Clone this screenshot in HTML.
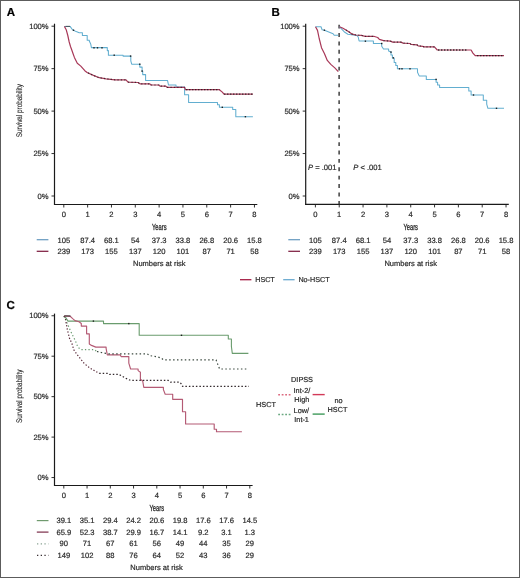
<!DOCTYPE html><html><head><meta charset="utf-8"><style>html,body{margin:0;padding:0;background:#fff;}svg{display:block;will-change:transform;}text{font-family:"Liberation Sans", sans-serif;text-rendering:geometricPrecision;}</style></head><body>
<svg width="520" height="578" viewBox="0 0 520 578">
<rect x="0" y="0" width="520" height="578" fill="#fff"/>
<text x="6.70" y="16.30" text-anchor="start" font-size="11.5" fill="#000" font-weight="bold" font-style="normal" stroke="#000" stroke-width="0.2" >A</text>
<text x="271.60" y="16.30" text-anchor="start" font-size="11.5" fill="#000" font-weight="bold" font-style="normal" stroke="#000" stroke-width="0.2" >B</text>
<text x="6.50" y="308.90" text-anchor="start" font-size="11.5" fill="#000" font-weight="bold" font-style="normal" stroke="#000" stroke-width="0.2" >C</text>
<line x1="54.5" y1="23.7" x2="54.5" y2="205.0" stroke="#1a1a1a" stroke-width="1.2"/>
<line x1="54.0" y1="204.5" x2="257.3" y2="204.5" stroke="#1a1a1a" stroke-width="1.1"/>
<line x1="51.5" y1="26.2" x2="54.5" y2="26.2" stroke="#1a1a1a" stroke-width="0.9"/>
<text x="48.60" y="28.80" text-anchor="end" font-size="7.6" fill="#2b2b2b" font-weight="normal" font-style="normal" stroke="#2b2b2b" stroke-width="0.2" >100%</text>
<line x1="51.5" y1="68.65" x2="54.5" y2="68.65" stroke="#1a1a1a" stroke-width="0.9"/>
<text x="48.60" y="71.25" text-anchor="end" font-size="7.6" fill="#2b2b2b" font-weight="normal" font-style="normal" stroke="#2b2b2b" stroke-width="0.2" >75%</text>
<line x1="51.5" y1="111.10000000000001" x2="54.5" y2="111.10000000000001" stroke="#1a1a1a" stroke-width="0.9"/>
<text x="48.60" y="113.70" text-anchor="end" font-size="7.6" fill="#2b2b2b" font-weight="normal" font-style="normal" stroke="#2b2b2b" stroke-width="0.2" >50%</text>
<line x1="51.5" y1="153.55" x2="54.5" y2="153.55" stroke="#1a1a1a" stroke-width="0.9"/>
<text x="48.60" y="156.15" text-anchor="end" font-size="7.6" fill="#2b2b2b" font-weight="normal" font-style="normal" stroke="#2b2b2b" stroke-width="0.2" >25%</text>
<line x1="51.5" y1="196.0" x2="54.5" y2="196.0" stroke="#1a1a1a" stroke-width="0.9"/>
<text x="48.60" y="198.60" text-anchor="end" font-size="7.6" fill="#2b2b2b" font-weight="normal" font-style="normal" stroke="#2b2b2b" stroke-width="0.2" >0%</text>
<line x1="63.80" y1="204.5" x2="63.80" y2="207.5" stroke="#1a1a1a" stroke-width="0.9"/>
<line x1="87.63" y1="204.5" x2="87.63" y2="207.5" stroke="#1a1a1a" stroke-width="0.9"/>
<line x1="111.46" y1="204.5" x2="111.46" y2="207.5" stroke="#1a1a1a" stroke-width="0.9"/>
<line x1="135.29" y1="204.5" x2="135.29" y2="207.5" stroke="#1a1a1a" stroke-width="0.9"/>
<line x1="159.12" y1="204.5" x2="159.12" y2="207.5" stroke="#1a1a1a" stroke-width="0.9"/>
<line x1="182.95" y1="204.5" x2="182.95" y2="207.5" stroke="#1a1a1a" stroke-width="0.9"/>
<line x1="206.78" y1="204.5" x2="206.78" y2="207.5" stroke="#1a1a1a" stroke-width="0.9"/>
<line x1="230.61" y1="204.5" x2="230.61" y2="207.5" stroke="#1a1a1a" stroke-width="0.9"/>
<line x1="254.44" y1="204.5" x2="254.44" y2="207.5" stroke="#1a1a1a" stroke-width="0.9"/>
<text x="63.80" y="217.30" text-anchor="middle" font-size="7.6" fill="#2b2b2b" font-weight="normal" font-style="normal" stroke="#2b2b2b" stroke-width="0.2" >0</text>
<text x="87.63" y="217.30" text-anchor="middle" font-size="7.6" fill="#2b2b2b" font-weight="normal" font-style="normal" stroke="#2b2b2b" stroke-width="0.2" >1</text>
<text x="111.46" y="217.30" text-anchor="middle" font-size="7.6" fill="#2b2b2b" font-weight="normal" font-style="normal" stroke="#2b2b2b" stroke-width="0.2" >2</text>
<text x="135.29" y="217.30" text-anchor="middle" font-size="7.6" fill="#2b2b2b" font-weight="normal" font-style="normal" stroke="#2b2b2b" stroke-width="0.2" >3</text>
<text x="159.12" y="217.30" text-anchor="middle" font-size="7.6" fill="#2b2b2b" font-weight="normal" font-style="normal" stroke="#2b2b2b" stroke-width="0.2" >4</text>
<text x="182.95" y="217.30" text-anchor="middle" font-size="7.6" fill="#2b2b2b" font-weight="normal" font-style="normal" stroke="#2b2b2b" stroke-width="0.2" >5</text>
<text x="206.78" y="217.30" text-anchor="middle" font-size="7.6" fill="#2b2b2b" font-weight="normal" font-style="normal" stroke="#2b2b2b" stroke-width="0.2" >6</text>
<text x="230.61" y="217.30" text-anchor="middle" font-size="7.6" fill="#2b2b2b" font-weight="normal" font-style="normal" stroke="#2b2b2b" stroke-width="0.2" >7</text>
<text x="254.44" y="217.30" text-anchor="middle" font-size="7.6" fill="#2b2b2b" font-weight="normal" font-style="normal" stroke="#2b2b2b" stroke-width="0.2" >8</text>
<g transform="translate(21.60,110.65) rotate(-90) scale(0.776,1)"><text x="0" y="0" text-anchor="middle" font-size="8.2" fill="#2b2b2b" stroke="#2b2b2b" stroke-width="0.14">Survival probability</text></g>
<g transform="translate(159.30,230.40) scale(0.66,1)"><text x="0" y="0" text-anchor="middle" font-size="8.8" fill="#2b2b2b" stroke="#2b2b2b" stroke-width="0.3">Years</text></g>
<text x="159.30" y="265.60" text-anchor="middle" font-size="7.5" fill="#2b2b2b" font-weight="normal" font-style="normal" stroke="#2b2b2b" stroke-width="0.2" >Numbers at risk</text>
<line x1="36.7" y1="239.7" x2="48.4" y2="239.7" stroke="#6a9cc0" stroke-width="1.25"/>
<line x1="36.7" y1="251.3" x2="48.4" y2="251.3" stroke="#7e1e40" stroke-width="1.25"/>
<text x="63.80" y="242.60" text-anchor="middle" font-size="7.6" fill="#2b2b2b" font-weight="normal" font-style="normal" stroke="#2b2b2b" stroke-width="0.2" >105</text>
<text x="87.63" y="242.60" text-anchor="middle" font-size="7.6" fill="#2b2b2b" font-weight="normal" font-style="normal" stroke="#2b2b2b" stroke-width="0.2" >87.4</text>
<text x="111.46" y="242.60" text-anchor="middle" font-size="7.6" fill="#2b2b2b" font-weight="normal" font-style="normal" stroke="#2b2b2b" stroke-width="0.2" >68.1</text>
<text x="135.29" y="242.60" text-anchor="middle" font-size="7.6" fill="#2b2b2b" font-weight="normal" font-style="normal" stroke="#2b2b2b" stroke-width="0.2" >54</text>
<text x="159.12" y="242.60" text-anchor="middle" font-size="7.6" fill="#2b2b2b" font-weight="normal" font-style="normal" stroke="#2b2b2b" stroke-width="0.2" >37.3</text>
<text x="182.95" y="242.60" text-anchor="middle" font-size="7.6" fill="#2b2b2b" font-weight="normal" font-style="normal" stroke="#2b2b2b" stroke-width="0.2" >33.8</text>
<text x="206.78" y="242.60" text-anchor="middle" font-size="7.6" fill="#2b2b2b" font-weight="normal" font-style="normal" stroke="#2b2b2b" stroke-width="0.2" >26.8</text>
<text x="230.61" y="242.60" text-anchor="middle" font-size="7.6" fill="#2b2b2b" font-weight="normal" font-style="normal" stroke="#2b2b2b" stroke-width="0.2" >20.6</text>
<text x="254.44" y="242.60" text-anchor="middle" font-size="7.6" fill="#2b2b2b" font-weight="normal" font-style="normal" stroke="#2b2b2b" stroke-width="0.2" >15.8</text>
<text x="63.80" y="254.20" text-anchor="middle" font-size="7.6" fill="#2b2b2b" font-weight="normal" font-style="normal" stroke="#2b2b2b" stroke-width="0.2" >239</text>
<text x="87.63" y="254.20" text-anchor="middle" font-size="7.6" fill="#2b2b2b" font-weight="normal" font-style="normal" stroke="#2b2b2b" stroke-width="0.2" >173</text>
<text x="111.46" y="254.20" text-anchor="middle" font-size="7.6" fill="#2b2b2b" font-weight="normal" font-style="normal" stroke="#2b2b2b" stroke-width="0.2" >155</text>
<text x="135.29" y="254.20" text-anchor="middle" font-size="7.6" fill="#2b2b2b" font-weight="normal" font-style="normal" stroke="#2b2b2b" stroke-width="0.2" >137</text>
<text x="159.12" y="254.20" text-anchor="middle" font-size="7.6" fill="#2b2b2b" font-weight="normal" font-style="normal" stroke="#2b2b2b" stroke-width="0.2" >120</text>
<text x="182.95" y="254.20" text-anchor="middle" font-size="7.6" fill="#2b2b2b" font-weight="normal" font-style="normal" stroke="#2b2b2b" stroke-width="0.2" >101</text>
<text x="206.78" y="254.20" text-anchor="middle" font-size="7.6" fill="#2b2b2b" font-weight="normal" font-style="normal" stroke="#2b2b2b" stroke-width="0.2" >87</text>
<text x="230.61" y="254.20" text-anchor="middle" font-size="7.6" fill="#2b2b2b" font-weight="normal" font-style="normal" stroke="#2b2b2b" stroke-width="0.2" >71</text>
<text x="254.44" y="254.20" text-anchor="middle" font-size="7.6" fill="#2b2b2b" font-weight="normal" font-style="normal" stroke="#2b2b2b" stroke-width="0.2" >58</text>
<path d="M64.4,26.4 H70.1 L72.5,29.8 L76.2,31.6 L79.2,32.8 H82.4 V35.5 H87.2 V40.2 H89.3 V41 L90.8,44.3 L91.4,47.6 H107.3 V50.6 H108.4 V55.2 H123.1 V56.1 H130.8 V60.8 L131.7,64.2 H139.8 V67.1 H142.1 V71.1 H142.7 V74.6 H145.6 V80.4 H167.5 L168.5,85 H176 V87 H184.6 V94.8 H188.6 V102.4 H217.5 V104.8 H219.4 V107.3 H232.7 V109.4 H235.8 V116.7 H252.9" fill="none" stroke="#62aed0" stroke-width="1.05" stroke-linejoin="round" opacity="1"/>
<path d="M64.4,26.4 L66.2,29.7 L67.8,35.5 L69.2,42 L70.5,46.5 L71.7,49.8 L73,53.5 L74.4,57.4 L77.3,63.3 L80.8,66.1 L84.8,70.7 L87.1,72.5 L93.4,75.4 L99.2,77.7 L106.1,78.8 L115,79.8 L126,79.8 L128,82.1 L138,82.5 L140,83.8 L149.6,83.8 L151,85 L158.8,85 L160,86.1 L165.7,86.1 L167,87.3 L184.6,87.3 L185.5,89.7 L219.4,89.7 L222.3,92.1 L224,94.1 L252.9,94.1" fill="none" stroke="#a83858" stroke-width="1.2" stroke-linejoin="round" opacity="1"/>
<path d="M65.5,26.4 H70" fill="none" stroke="#4a5a60" stroke-width="1.1" stroke-linejoin="round" opacity="1"/>
<rect x="72.80" y="29.50" width="1.4" height="1.4" fill="#1e1e1e"/>
<rect x="93.30" y="47.10" width="1.4" height="1.4" fill="#1e1e1e"/>
<rect x="96.80" y="47.10" width="1.4" height="1.4" fill="#1e1e1e"/>
<rect x="101.30" y="47.10" width="1.4" height="1.4" fill="#1e1e1e"/>
<rect x="113.50" y="54.50" width="1.4" height="1.4" fill="#1e1e1e"/>
<rect x="129.90" y="55.40" width="1.4" height="1.4" fill="#1e1e1e"/>
<rect x="139.10" y="63.50" width="1.4" height="1.4" fill="#1e1e1e"/>
<rect x="141.40" y="70.40" width="1.4" height="1.4" fill="#1e1e1e"/>
<rect x="221.60" y="106.60" width="1.4" height="1.4" fill="#1e1e1e"/>
<rect x="244.70" y="116.00" width="1.4" height="1.4" fill="#1e1e1e"/>
<path d="M88,72.9 L93.4,75.4 L99.2,77.7 L106.1,78.8 L115,79.8 L126,79.8" fill="none" stroke="#1e1e1e" stroke-width="1.2" stroke-linejoin="round" stroke-dasharray="1.2 2.2" opacity="0.75"/>
<path d="M128,82.1 L138,82.5 L140,83.8 L149.6,83.8 L151,85 L158.8,85 L160,86.1 L165.7,86.1 L167,87.3 L184.6,87.3" fill="none" stroke="#1e1e1e" stroke-width="1.2" stroke-linejoin="round" stroke-dasharray="1.2 2.2" opacity="0.75"/>
<path d="M186,89.7 L219.4,89.7" fill="none" stroke="#1e1e1e" stroke-width="1.3" stroke-linejoin="round" stroke-dasharray="1.4 1.6" opacity="0.85"/>
<path d="M224,94.1 L252.9,94.1" fill="none" stroke="#1e1e1e" stroke-width="1.3" stroke-linejoin="round" stroke-dasharray="1.4 1.6" opacity="0.85"/>
<line x1="305.7" y1="23.7" x2="305.7" y2="204.9" stroke="#1a1a1a" stroke-width="1.2"/>
<line x1="305.2" y1="204.4" x2="508.8" y2="204.4" stroke="#1a1a1a" stroke-width="1.1"/>
<line x1="302.7" y1="26.2" x2="305.7" y2="26.2" stroke="#1a1a1a" stroke-width="0.9"/>
<text x="299.60" y="28.80" text-anchor="end" font-size="7.6" fill="#2b2b2b" font-weight="normal" font-style="normal" stroke="#2b2b2b" stroke-width="0.2" >100%</text>
<line x1="302.7" y1="68.65" x2="305.7" y2="68.65" stroke="#1a1a1a" stroke-width="0.9"/>
<text x="299.60" y="71.25" text-anchor="end" font-size="7.6" fill="#2b2b2b" font-weight="normal" font-style="normal" stroke="#2b2b2b" stroke-width="0.2" >75%</text>
<line x1="302.7" y1="111.10000000000001" x2="305.7" y2="111.10000000000001" stroke="#1a1a1a" stroke-width="0.9"/>
<text x="299.60" y="113.70" text-anchor="end" font-size="7.6" fill="#2b2b2b" font-weight="normal" font-style="normal" stroke="#2b2b2b" stroke-width="0.2" >50%</text>
<line x1="302.7" y1="153.55" x2="305.7" y2="153.55" stroke="#1a1a1a" stroke-width="0.9"/>
<text x="299.60" y="156.15" text-anchor="end" font-size="7.6" fill="#2b2b2b" font-weight="normal" font-style="normal" stroke="#2b2b2b" stroke-width="0.2" >25%</text>
<line x1="302.7" y1="196.0" x2="305.7" y2="196.0" stroke="#1a1a1a" stroke-width="0.9"/>
<text x="299.60" y="198.60" text-anchor="end" font-size="7.6" fill="#2b2b2b" font-weight="normal" font-style="normal" stroke="#2b2b2b" stroke-width="0.2" >0%</text>
<line x1="315.40" y1="204.4" x2="315.40" y2="207.4" stroke="#1a1a1a" stroke-width="0.9"/>
<line x1="339.23" y1="204.4" x2="339.23" y2="207.4" stroke="#1a1a1a" stroke-width="0.9"/>
<line x1="363.06" y1="204.4" x2="363.06" y2="207.4" stroke="#1a1a1a" stroke-width="0.9"/>
<line x1="386.89" y1="204.4" x2="386.89" y2="207.4" stroke="#1a1a1a" stroke-width="0.9"/>
<line x1="410.72" y1="204.4" x2="410.72" y2="207.4" stroke="#1a1a1a" stroke-width="0.9"/>
<line x1="434.55" y1="204.4" x2="434.55" y2="207.4" stroke="#1a1a1a" stroke-width="0.9"/>
<line x1="458.38" y1="204.4" x2="458.38" y2="207.4" stroke="#1a1a1a" stroke-width="0.9"/>
<line x1="482.21" y1="204.4" x2="482.21" y2="207.4" stroke="#1a1a1a" stroke-width="0.9"/>
<line x1="506.04" y1="204.4" x2="506.04" y2="207.4" stroke="#1a1a1a" stroke-width="0.9"/>
<text x="315.40" y="217.30" text-anchor="middle" font-size="7.6" fill="#2b2b2b" font-weight="normal" font-style="normal" stroke="#2b2b2b" stroke-width="0.2" >0</text>
<text x="339.23" y="217.30" text-anchor="middle" font-size="7.6" fill="#2b2b2b" font-weight="normal" font-style="normal" stroke="#2b2b2b" stroke-width="0.2" >1</text>
<text x="363.06" y="217.30" text-anchor="middle" font-size="7.6" fill="#2b2b2b" font-weight="normal" font-style="normal" stroke="#2b2b2b" stroke-width="0.2" >2</text>
<text x="386.89" y="217.30" text-anchor="middle" font-size="7.6" fill="#2b2b2b" font-weight="normal" font-style="normal" stroke="#2b2b2b" stroke-width="0.2" >3</text>
<text x="410.72" y="217.30" text-anchor="middle" font-size="7.6" fill="#2b2b2b" font-weight="normal" font-style="normal" stroke="#2b2b2b" stroke-width="0.2" >4</text>
<text x="434.55" y="217.30" text-anchor="middle" font-size="7.6" fill="#2b2b2b" font-weight="normal" font-style="normal" stroke="#2b2b2b" stroke-width="0.2" >5</text>
<text x="458.38" y="217.30" text-anchor="middle" font-size="7.6" fill="#2b2b2b" font-weight="normal" font-style="normal" stroke="#2b2b2b" stroke-width="0.2" >6</text>
<text x="482.21" y="217.30" text-anchor="middle" font-size="7.6" fill="#2b2b2b" font-weight="normal" font-style="normal" stroke="#2b2b2b" stroke-width="0.2" >7</text>
<text x="506.04" y="217.30" text-anchor="middle" font-size="7.6" fill="#2b2b2b" font-weight="normal" font-style="normal" stroke="#2b2b2b" stroke-width="0.2" >8</text>
<g transform="translate(410.70,230.40) scale(0.66,1)"><text x="0" y="0" text-anchor="middle" font-size="8.8" fill="#2b2b2b" stroke="#2b2b2b" stroke-width="0.3">Years</text></g>
<text x="410.70" y="265.60" text-anchor="middle" font-size="7.5" fill="#2b2b2b" font-weight="normal" font-style="normal" stroke="#2b2b2b" stroke-width="0.2" >Numbers at risk</text>
<line x1="288.3" y1="239.7" x2="300" y2="239.7" stroke="#6a9cc0" stroke-width="1.25"/>
<line x1="288.3" y1="251.3" x2="300" y2="251.3" stroke="#7e1e40" stroke-width="1.25"/>
<text x="315.40" y="242.60" text-anchor="middle" font-size="7.6" fill="#2b2b2b" font-weight="normal" font-style="normal" stroke="#2b2b2b" stroke-width="0.2" >105</text>
<text x="339.23" y="242.60" text-anchor="middle" font-size="7.6" fill="#2b2b2b" font-weight="normal" font-style="normal" stroke="#2b2b2b" stroke-width="0.2" >87.4</text>
<text x="363.06" y="242.60" text-anchor="middle" font-size="7.6" fill="#2b2b2b" font-weight="normal" font-style="normal" stroke="#2b2b2b" stroke-width="0.2" >68.1</text>
<text x="386.89" y="242.60" text-anchor="middle" font-size="7.6" fill="#2b2b2b" font-weight="normal" font-style="normal" stroke="#2b2b2b" stroke-width="0.2" >54</text>
<text x="410.72" y="242.60" text-anchor="middle" font-size="7.6" fill="#2b2b2b" font-weight="normal" font-style="normal" stroke="#2b2b2b" stroke-width="0.2" >37.3</text>
<text x="434.55" y="242.60" text-anchor="middle" font-size="7.6" fill="#2b2b2b" font-weight="normal" font-style="normal" stroke="#2b2b2b" stroke-width="0.2" >33.8</text>
<text x="458.38" y="242.60" text-anchor="middle" font-size="7.6" fill="#2b2b2b" font-weight="normal" font-style="normal" stroke="#2b2b2b" stroke-width="0.2" >26.8</text>
<text x="482.21" y="242.60" text-anchor="middle" font-size="7.6" fill="#2b2b2b" font-weight="normal" font-style="normal" stroke="#2b2b2b" stroke-width="0.2" >20.6</text>
<text x="506.04" y="242.60" text-anchor="middle" font-size="7.6" fill="#2b2b2b" font-weight="normal" font-style="normal" stroke="#2b2b2b" stroke-width="0.2" >15.8</text>
<text x="315.40" y="254.20" text-anchor="middle" font-size="7.6" fill="#2b2b2b" font-weight="normal" font-style="normal" stroke="#2b2b2b" stroke-width="0.2" >239</text>
<text x="339.23" y="254.20" text-anchor="middle" font-size="7.6" fill="#2b2b2b" font-weight="normal" font-style="normal" stroke="#2b2b2b" stroke-width="0.2" >173</text>
<text x="363.06" y="254.20" text-anchor="middle" font-size="7.6" fill="#2b2b2b" font-weight="normal" font-style="normal" stroke="#2b2b2b" stroke-width="0.2" >155</text>
<text x="386.89" y="254.20" text-anchor="middle" font-size="7.6" fill="#2b2b2b" font-weight="normal" font-style="normal" stroke="#2b2b2b" stroke-width="0.2" >137</text>
<text x="410.72" y="254.20" text-anchor="middle" font-size="7.6" fill="#2b2b2b" font-weight="normal" font-style="normal" stroke="#2b2b2b" stroke-width="0.2" >120</text>
<text x="434.55" y="254.20" text-anchor="middle" font-size="7.6" fill="#2b2b2b" font-weight="normal" font-style="normal" stroke="#2b2b2b" stroke-width="0.2" >101</text>
<text x="458.38" y="254.20" text-anchor="middle" font-size="7.6" fill="#2b2b2b" font-weight="normal" font-style="normal" stroke="#2b2b2b" stroke-width="0.2" >87</text>
<text x="482.21" y="254.20" text-anchor="middle" font-size="7.6" fill="#2b2b2b" font-weight="normal" font-style="normal" stroke="#2b2b2b" stroke-width="0.2" >71</text>
<text x="506.04" y="254.20" text-anchor="middle" font-size="7.6" fill="#2b2b2b" font-weight="normal" font-style="normal" stroke="#2b2b2b" stroke-width="0.2" >58</text>
<line x1="339.1" y1="24.7" x2="339.1" y2="205" stroke="#222" stroke-width="1.3" stroke-dasharray="3.9 4.49"/>
<text x="322.20" y="169.70" text-anchor="middle" font-size="7.6" fill="#2b2b2b" font-weight="normal" font-style="normal" stroke="#2b2b2b" stroke-width="0.2" ><tspan font-style="italic">P</tspan> = .001</text>
<text x="367.50" y="169.70" text-anchor="middle" font-size="7.6" fill="#2b2b2b" font-weight="normal" font-style="normal" stroke="#2b2b2b" stroke-width="0.2" ><tspan font-style="italic">P</tspan> &lt; .001</text>
<path d="M315.5,26.7 H321 L322.1,29.8 L324.4,30.2 L333.1,33.8 L334.2,35.3 H338.3" fill="none" stroke="#62aed0" stroke-width="1.05" stroke-linejoin="round" opacity="1"/>
<path d="M339.4,26.7 L344.8,32.3 L347.9,34.2 L356.8,35.4 L358.2,37 L359.1,40.9 H373.4 V43.4 H381.7 V46.3 L383.5,49 H388.6 V51 L391,52.1 V55 H392.4 V57.9 H394.2 V62.5 H395.8 V65.4 H397.4 V68.8 H417.5 V72.3 L419.2,75.9 H426.3 V79.4 H436.1 V82.3 H437.6 V85 H439.6 V87.5 H468.8 V91 H471.1 V95 H483.3 V100.2 H486.7 V104.2 L487.9,108.3 H504" fill="none" stroke="#62aed0" stroke-width="1.05" stroke-linejoin="round" opacity="1"/>
<path d="M315.5,26.7 L317.5,30.4 L319.2,38.5 L321.5,47.7 L324.4,53.4 L327.3,60.4 L330.8,64.4 L334.8,67.9 L338.3,71.6" fill="none" stroke="#a83858" stroke-width="1.2" stroke-linejoin="round" opacity="1"/>
<path d="M339.4,26.7 L342.5,28 L346,30 L349.5,32.3 L352.2,34.2 L356,35 L361.4,35.4 L365.2,36.3 L373.7,36.3 L377.7,37.5 L379.4,39.4 L383.5,40.6 L390.4,41.1 L392.7,42.1 L400.8,42.1 L403.1,43.1 L410,43.5 L411.1,44.4 L416.9,44.8 L418.1,45.8 L422.7,46.3 L424,46.9 L434.4,46.9 L437.3,50 L471.1,50 L472.9,53.1 L475.2,55.6 L504,55.6" fill="none" stroke="#a83858" stroke-width="1.2" stroke-linejoin="round" opacity="1"/>
<rect x="323.70" y="29.50" width="1.4" height="1.4" fill="#1e1e1e"/>
<rect x="364.70" y="40.50" width="1.4" height="1.4" fill="#1e1e1e"/>
<rect x="381.00" y="42.80" width="1.4" height="1.4" fill="#1e1e1e"/>
<rect x="390.30" y="51.40" width="1.4" height="1.4" fill="#1e1e1e"/>
<rect x="392.60" y="57.20" width="1.4" height="1.4" fill="#1e1e1e"/>
<rect x="398.80" y="68.10" width="1.4" height="1.4" fill="#1e1e1e"/>
<rect x="401.30" y="68.10" width="1.4" height="1.4" fill="#1e1e1e"/>
<rect x="409.30" y="68.10" width="1.4" height="1.4" fill="#1e1e1e"/>
<rect x="435.40" y="78.70" width="1.4" height="1.4" fill="#1e1e1e"/>
<rect x="472.80" y="94.30" width="1.4" height="1.4" fill="#1e1e1e"/>
<rect x="495.80" y="107.60" width="1.4" height="1.4" fill="#1e1e1e"/>
<path d="M346,30 L349.5,32.3 L352.2,34.2 L356,35 L361.4,35.4 L365.2,36.3 L373.7,36.3" fill="none" stroke="#1e1e1e" stroke-width="1.2" stroke-linejoin="round" stroke-dasharray="1.2 2.2" opacity="0.75"/>
<path d="M383.5,40.6 L390.4,41.1 L392.7,42.1 L400.8,42.1 L403.1,43.1 L410,43.5 L411.1,44.4 L416.9,44.8 L418.1,45.8 L422.7,46.3 L424,46.9 L434.4,46.9" fill="none" stroke="#1e1e1e" stroke-width="1.2" stroke-linejoin="round" stroke-dasharray="1.2 2.2" opacity="0.75"/>
<path d="M438,50 L468,50" fill="none" stroke="#1e1e1e" stroke-width="1.3" stroke-linejoin="round" stroke-dasharray="1.4 1.6" opacity="0.85"/>
<path d="M477,55.6 L504,55.6" fill="none" stroke="#1e1e1e" stroke-width="1.3" stroke-linejoin="round" stroke-dasharray="1.4 1.6" opacity="0.85"/>
<line x1="240" y1="279.7" x2="251.4" y2="279.7" stroke="#a51f45" stroke-width="1.3"/>
<text x="255.20" y="282.10" text-anchor="start" font-size="7.2" fill="#2b2b2b" font-weight="normal" font-style="normal" stroke="#2b2b2b" stroke-width="0.2" >HSCT</text>
<line x1="283.2" y1="279.7" x2="294.6" y2="279.7" stroke="#6aaad0" stroke-width="1.3"/>
<text x="298.40" y="282.10" text-anchor="start" font-size="7.2" fill="#2b2b2b" font-weight="normal" font-style="normal" stroke="#2b2b2b" stroke-width="0.2" >No-HSCT</text>
<line x1="54.5" y1="313.6" x2="54.5" y2="486.0" stroke="#1a1a1a" stroke-width="1.2"/>
<line x1="54.0" y1="485.5" x2="252.6" y2="485.5" stroke="#1a1a1a" stroke-width="1.1"/>
<line x1="51.5" y1="315.75" x2="54.5" y2="315.75" stroke="#1a1a1a" stroke-width="0.9"/>
<text x="48.60" y="318.35" text-anchor="end" font-size="7.6" fill="#2b2b2b" font-weight="normal" font-style="normal" stroke="#2b2b2b" stroke-width="0.2" >100%</text>
<line x1="51.5" y1="356.2" x2="54.5" y2="356.2" stroke="#1a1a1a" stroke-width="0.9"/>
<text x="48.60" y="358.80" text-anchor="end" font-size="7.6" fill="#2b2b2b" font-weight="normal" font-style="normal" stroke="#2b2b2b" stroke-width="0.2" >75%</text>
<line x1="51.5" y1="396.65" x2="54.5" y2="396.65" stroke="#1a1a1a" stroke-width="0.9"/>
<text x="48.60" y="399.25" text-anchor="end" font-size="7.6" fill="#2b2b2b" font-weight="normal" font-style="normal" stroke="#2b2b2b" stroke-width="0.2" >50%</text>
<line x1="51.5" y1="437.1" x2="54.5" y2="437.1" stroke="#1a1a1a" stroke-width="0.9"/>
<text x="48.60" y="439.70" text-anchor="end" font-size="7.6" fill="#2b2b2b" font-weight="normal" font-style="normal" stroke="#2b2b2b" stroke-width="0.2" >25%</text>
<line x1="51.5" y1="477.55" x2="54.5" y2="477.55" stroke="#1a1a1a" stroke-width="0.9"/>
<text x="48.60" y="480.15" text-anchor="end" font-size="7.6" fill="#2b2b2b" font-weight="normal" font-style="normal" stroke="#2b2b2b" stroke-width="0.2" >0%</text>
<line x1="63.80" y1="485.5" x2="63.80" y2="488.5" stroke="#1a1a1a" stroke-width="0.9"/>
<line x1="87.05" y1="485.5" x2="87.05" y2="488.5" stroke="#1a1a1a" stroke-width="0.9"/>
<line x1="110.30" y1="485.5" x2="110.30" y2="488.5" stroke="#1a1a1a" stroke-width="0.9"/>
<line x1="133.55" y1="485.5" x2="133.55" y2="488.5" stroke="#1a1a1a" stroke-width="0.9"/>
<line x1="156.80" y1="485.5" x2="156.80" y2="488.5" stroke="#1a1a1a" stroke-width="0.9"/>
<line x1="180.05" y1="485.5" x2="180.05" y2="488.5" stroke="#1a1a1a" stroke-width="0.9"/>
<line x1="203.30" y1="485.5" x2="203.30" y2="488.5" stroke="#1a1a1a" stroke-width="0.9"/>
<line x1="226.55" y1="485.5" x2="226.55" y2="488.5" stroke="#1a1a1a" stroke-width="0.9"/>
<line x1="249.80" y1="485.5" x2="249.80" y2="488.5" stroke="#1a1a1a" stroke-width="0.9"/>
<text x="63.80" y="498.40" text-anchor="middle" font-size="7.6" fill="#2b2b2b" font-weight="normal" font-style="normal" stroke="#2b2b2b" stroke-width="0.2" >0</text>
<text x="87.05" y="498.40" text-anchor="middle" font-size="7.6" fill="#2b2b2b" font-weight="normal" font-style="normal" stroke="#2b2b2b" stroke-width="0.2" >1</text>
<text x="110.30" y="498.40" text-anchor="middle" font-size="7.6" fill="#2b2b2b" font-weight="normal" font-style="normal" stroke="#2b2b2b" stroke-width="0.2" >2</text>
<text x="133.55" y="498.40" text-anchor="middle" font-size="7.6" fill="#2b2b2b" font-weight="normal" font-style="normal" stroke="#2b2b2b" stroke-width="0.2" >3</text>
<text x="156.80" y="498.40" text-anchor="middle" font-size="7.6" fill="#2b2b2b" font-weight="normal" font-style="normal" stroke="#2b2b2b" stroke-width="0.2" >4</text>
<text x="180.05" y="498.40" text-anchor="middle" font-size="7.6" fill="#2b2b2b" font-weight="normal" font-style="normal" stroke="#2b2b2b" stroke-width="0.2" >5</text>
<text x="203.30" y="498.40" text-anchor="middle" font-size="7.6" fill="#2b2b2b" font-weight="normal" font-style="normal" stroke="#2b2b2b" stroke-width="0.2" >6</text>
<text x="226.55" y="498.40" text-anchor="middle" font-size="7.6" fill="#2b2b2b" font-weight="normal" font-style="normal" stroke="#2b2b2b" stroke-width="0.2" >7</text>
<text x="249.80" y="498.40" text-anchor="middle" font-size="7.6" fill="#2b2b2b" font-weight="normal" font-style="normal" stroke="#2b2b2b" stroke-width="0.2" >8</text>
<g transform="translate(21.60,396.30) rotate(-90) scale(0.776,1)"><text x="0" y="0" text-anchor="middle" font-size="8.2" fill="#2b2b2b" stroke="#2b2b2b" stroke-width="0.14">Survival probability</text></g>
<g transform="translate(156.80,510.80) scale(0.66,1)"><text x="0" y="0" text-anchor="middle" font-size="8.8" fill="#2b2b2b" stroke="#2b2b2b" stroke-width="0.3">Years</text></g>
<text x="156.60" y="569.60" text-anchor="middle" font-size="7.5" fill="#2b2b2b" font-weight="normal" font-style="normal" stroke="#2b2b2b" stroke-width="0.2" >Numbers at risk</text>
<text x="63.80" y="522.90" text-anchor="middle" font-size="7.6" fill="#2b2b2b" font-weight="normal" font-style="normal" stroke="#2b2b2b" stroke-width="0.2" >39.1</text>
<text x="87.05" y="522.90" text-anchor="middle" font-size="7.6" fill="#2b2b2b" font-weight="normal" font-style="normal" stroke="#2b2b2b" stroke-width="0.2" >35.1</text>
<text x="110.30" y="522.90" text-anchor="middle" font-size="7.6" fill="#2b2b2b" font-weight="normal" font-style="normal" stroke="#2b2b2b" stroke-width="0.2" >29.4</text>
<text x="133.55" y="522.90" text-anchor="middle" font-size="7.6" fill="#2b2b2b" font-weight="normal" font-style="normal" stroke="#2b2b2b" stroke-width="0.2" >24.2</text>
<text x="156.80" y="522.90" text-anchor="middle" font-size="7.6" fill="#2b2b2b" font-weight="normal" font-style="normal" stroke="#2b2b2b" stroke-width="0.2" >20.6</text>
<text x="180.05" y="522.90" text-anchor="middle" font-size="7.6" fill="#2b2b2b" font-weight="normal" font-style="normal" stroke="#2b2b2b" stroke-width="0.2" >19.8</text>
<text x="203.30" y="522.90" text-anchor="middle" font-size="7.6" fill="#2b2b2b" font-weight="normal" font-style="normal" stroke="#2b2b2b" stroke-width="0.2" >17.6</text>
<text x="226.55" y="522.90" text-anchor="middle" font-size="7.6" fill="#2b2b2b" font-weight="normal" font-style="normal" stroke="#2b2b2b" stroke-width="0.2" >17.6</text>
<text x="249.80" y="522.90" text-anchor="middle" font-size="7.6" fill="#2b2b2b" font-weight="normal" font-style="normal" stroke="#2b2b2b" stroke-width="0.2" >14.5</text>
<text x="63.80" y="534.50" text-anchor="middle" font-size="7.6" fill="#2b2b2b" font-weight="normal" font-style="normal" stroke="#2b2b2b" stroke-width="0.2" >65.9</text>
<text x="87.05" y="534.50" text-anchor="middle" font-size="7.6" fill="#2b2b2b" font-weight="normal" font-style="normal" stroke="#2b2b2b" stroke-width="0.2" >52.3</text>
<text x="110.30" y="534.50" text-anchor="middle" font-size="7.6" fill="#2b2b2b" font-weight="normal" font-style="normal" stroke="#2b2b2b" stroke-width="0.2" >38.7</text>
<text x="133.55" y="534.50" text-anchor="middle" font-size="7.6" fill="#2b2b2b" font-weight="normal" font-style="normal" stroke="#2b2b2b" stroke-width="0.2" >29.9</text>
<text x="156.80" y="534.50" text-anchor="middle" font-size="7.6" fill="#2b2b2b" font-weight="normal" font-style="normal" stroke="#2b2b2b" stroke-width="0.2" >16.7</text>
<text x="180.05" y="534.50" text-anchor="middle" font-size="7.6" fill="#2b2b2b" font-weight="normal" font-style="normal" stroke="#2b2b2b" stroke-width="0.2" >14.1</text>
<text x="203.30" y="534.50" text-anchor="middle" font-size="7.6" fill="#2b2b2b" font-weight="normal" font-style="normal" stroke="#2b2b2b" stroke-width="0.2" >9.2</text>
<text x="226.55" y="534.50" text-anchor="middle" font-size="7.6" fill="#2b2b2b" font-weight="normal" font-style="normal" stroke="#2b2b2b" stroke-width="0.2" >3.1</text>
<text x="249.80" y="534.50" text-anchor="middle" font-size="7.6" fill="#2b2b2b" font-weight="normal" font-style="normal" stroke="#2b2b2b" stroke-width="0.2" >1.3</text>
<text x="63.80" y="546.30" text-anchor="middle" font-size="7.6" fill="#2b2b2b" font-weight="normal" font-style="normal" stroke="#2b2b2b" stroke-width="0.2" >90</text>
<text x="87.05" y="546.30" text-anchor="middle" font-size="7.6" fill="#2b2b2b" font-weight="normal" font-style="normal" stroke="#2b2b2b" stroke-width="0.2" >71</text>
<text x="110.30" y="546.30" text-anchor="middle" font-size="7.6" fill="#2b2b2b" font-weight="normal" font-style="normal" stroke="#2b2b2b" stroke-width="0.2" >67</text>
<text x="133.55" y="546.30" text-anchor="middle" font-size="7.6" fill="#2b2b2b" font-weight="normal" font-style="normal" stroke="#2b2b2b" stroke-width="0.2" >61</text>
<text x="156.80" y="546.30" text-anchor="middle" font-size="7.6" fill="#2b2b2b" font-weight="normal" font-style="normal" stroke="#2b2b2b" stroke-width="0.2" >56</text>
<text x="180.05" y="546.30" text-anchor="middle" font-size="7.6" fill="#2b2b2b" font-weight="normal" font-style="normal" stroke="#2b2b2b" stroke-width="0.2" >49</text>
<text x="203.30" y="546.30" text-anchor="middle" font-size="7.6" fill="#2b2b2b" font-weight="normal" font-style="normal" stroke="#2b2b2b" stroke-width="0.2" >44</text>
<text x="226.55" y="546.30" text-anchor="middle" font-size="7.6" fill="#2b2b2b" font-weight="normal" font-style="normal" stroke="#2b2b2b" stroke-width="0.2" >35</text>
<text x="249.80" y="546.30" text-anchor="middle" font-size="7.6" fill="#2b2b2b" font-weight="normal" font-style="normal" stroke="#2b2b2b" stroke-width="0.2" >29</text>
<text x="63.80" y="557.90" text-anchor="middle" font-size="7.6" fill="#2b2b2b" font-weight="normal" font-style="normal" stroke="#2b2b2b" stroke-width="0.2" >149</text>
<text x="87.05" y="557.90" text-anchor="middle" font-size="7.6" fill="#2b2b2b" font-weight="normal" font-style="normal" stroke="#2b2b2b" stroke-width="0.2" >102</text>
<text x="110.30" y="557.90" text-anchor="middle" font-size="7.6" fill="#2b2b2b" font-weight="normal" font-style="normal" stroke="#2b2b2b" stroke-width="0.2" >88</text>
<text x="133.55" y="557.90" text-anchor="middle" font-size="7.6" fill="#2b2b2b" font-weight="normal" font-style="normal" stroke="#2b2b2b" stroke-width="0.2" >76</text>
<text x="156.80" y="557.90" text-anchor="middle" font-size="7.6" fill="#2b2b2b" font-weight="normal" font-style="normal" stroke="#2b2b2b" stroke-width="0.2" >64</text>
<text x="180.05" y="557.90" text-anchor="middle" font-size="7.6" fill="#2b2b2b" font-weight="normal" font-style="normal" stroke="#2b2b2b" stroke-width="0.2" >52</text>
<text x="203.30" y="557.90" text-anchor="middle" font-size="7.6" fill="#2b2b2b" font-weight="normal" font-style="normal" stroke="#2b2b2b" stroke-width="0.2" >43</text>
<text x="226.55" y="557.90" text-anchor="middle" font-size="7.6" fill="#2b2b2b" font-weight="normal" font-style="normal" stroke="#2b2b2b" stroke-width="0.2" >36</text>
<text x="249.80" y="557.90" text-anchor="middle" font-size="7.6" fill="#2b2b2b" font-weight="normal" font-style="normal" stroke="#2b2b2b" stroke-width="0.2" >29</text>
<line x1="36.8" y1="520.6" x2="48.5" y2="520.6" stroke="#6f9a6e" stroke-width="1.2"/>
<line x1="36.8" y1="532.1" x2="48.5" y2="532.1" stroke="#7a2c48" stroke-width="1.2"/>
<line x1="37.0" y1="543.8" x2="48.5" y2="543.8" stroke="#8aa494" stroke-width="1.3" stroke-dasharray="1.3 2.4"/>
<line x1="37.0" y1="555.4" x2="48.5" y2="555.4" stroke="#3a3034" stroke-width="1.2" stroke-dasharray="1.3 2.4"/>
<path d="M64,316 L66,318 L68,321.1 H103.5 V323.6 H139.2 V335.3 H228.3 V339 H231.4 V346.5 L232.3,353.4 H248.4" fill="none" stroke="#6a9c6e" stroke-width="1.1" stroke-linejoin="round" opacity="1"/>
<path d="M64,316 L70.4,316.5 L72.7,318.6 L75,320.6 L79,321.7 L81.3,323.5 V326.1 H86.6 V333.8 H89.3 V344 L91.5,345.4 L95.8,347.1 H106.1 V348.4 L107.3,354.8 H120.2 L121.1,356.6 H128.8 V363.1 L130.6,369 H138.1 V370.6 L140.4,372.3 V379.2 L142.7,381 L143.8,387.3 H163.4 V389.6 L165.2,394.2 H172.7 V399.3 H182.5 V411.7 H185.6 V424 H214.2 V429.2 H216.5 V431.7 H241.9" fill="none" stroke="#b45a74" stroke-width="1.15" stroke-linejoin="round" opacity="1"/>
<path d="M64.5,315.9 H70.5" fill="none" stroke="#4a3a3e" stroke-width="1.2" stroke-linejoin="round" opacity="1"/>
<path d="M64,316 L65.5,318.5 L66.8,322.3 L68.9,327.3 L70.8,331.5 L72.7,335.4 L75.3,340.6 L77.6,346.4 L79.5,348.7 L81,349.6 H94.6 L96.9,351.7" fill="none" stroke="#6a9a70" stroke-width="1.2" stroke-linejoin="round" stroke-dasharray="1.3 2.2" opacity="1"/>
<path d="M96.9,351.7 H98 L103.8,353.1 L108.4,353.8 H147.3 L149.6,355.6 L156.5,356.7 L161.1,357.9 L163.4,359.9 H216.1 L217.3,363.2 L218.5,366.1 L219.6,369 H248.4" fill="none" stroke="#3c4a40" stroke-width="1.2" stroke-linejoin="round" stroke-dasharray="1.5 2.4" opacity="1"/>
<path d="M64,316 L65.6,319.5 L67.2,329 L69.5,338.3 L72.1,344 L73.8,349.8 L77,354.4 L80.8,359.2 L84.2,363.5 L90,368.1 L95.8,371.5 L99.2,373.3" fill="none" stroke="#5a2a3a" stroke-width="1.2" stroke-linejoin="round" stroke-dasharray="1.3 1.9" opacity="1"/>
<path d="M99.2,373.3 H108.4 L109.6,374.4 H118.8 L121.1,375.6 L125.7,378.3 L130.4,380.3 H168.1 L170.4,382.1 H179.6 L181.9,384.5 L182.5,386.3 H248.9" fill="none" stroke="#32282c" stroke-width="1.2" stroke-linejoin="round" stroke-dasharray="1.5 2.0" opacity="1"/>
<rect x="92.70" y="320.40" width="1.4" height="1.4" fill="#1e1e1e"/>
<rect x="128.10" y="322.90" width="1.4" height="1.4" fill="#1e1e1e"/>
<rect x="180.80" y="334.60" width="1.4" height="1.4" fill="#1e1e1e"/>
<text x="256.00" y="407.30" text-anchor="start" font-size="7.3" fill="#2b2b2b" font-weight="normal" font-style="normal" stroke="#2b2b2b" stroke-width="0.2" >HSCT</text>
<text x="291.10" y="381.90" text-anchor="start" font-size="7.3" fill="#2b2b2b" font-weight="normal" font-style="normal" stroke="#2b2b2b" stroke-width="0.2" >DIPSS</text>
<text x="293.60" y="393.00" text-anchor="start" font-size="7.3" fill="#2b2b2b" font-weight="normal" font-style="normal" stroke="#2b2b2b" stroke-width="0.2" >Int-2/</text>
<text x="294.30" y="402.30" text-anchor="start" font-size="7.3" fill="#2b2b2b" font-weight="normal" font-style="normal" stroke="#2b2b2b" stroke-width="0.2" >High</text>
<text x="293.60" y="413.10" text-anchor="start" font-size="7.3" fill="#2b2b2b" font-weight="normal" font-style="normal" stroke="#2b2b2b" stroke-width="0.2" >Low/</text>
<text x="294.30" y="421.80" text-anchor="start" font-size="7.3" fill="#2b2b2b" font-weight="normal" font-style="normal" stroke="#2b2b2b" stroke-width="0.2" >Int-1</text>
<text x="338.50" y="403.00" text-anchor="middle" font-size="7.3" fill="#2b2b2b" font-weight="normal" font-style="normal" stroke="#2b2b2b" stroke-width="0.2" >no</text>
<text x="337.50" y="411.60" text-anchor="middle" font-size="7.3" fill="#2b2b2b" font-weight="normal" font-style="normal" stroke="#2b2b2b" stroke-width="0.2" >HSCT</text>
<line x1="278.2" y1="394.8" x2="290.6" y2="394.8" stroke="#dc6a80" stroke-width="1.5" stroke-dasharray="1.8 1.7"/>
<line x1="278.2" y1="414.4" x2="290.6" y2="414.4" stroke="#6aa880" stroke-width="1.5" stroke-dasharray="1.8 1.7"/>
<line x1="312.6" y1="394.6" x2="324.7" y2="394.6" stroke="#d23a58" stroke-width="1.4"/>
<line x1="312.6" y1="414.1" x2="324.7" y2="414.1" stroke="#3f9a5a" stroke-width="1.4"/>
<rect x="0.5" y="0.5" width="519" height="577" fill="none" stroke="#5c5c5c" stroke-width="1"/>
</svg></body></html>
